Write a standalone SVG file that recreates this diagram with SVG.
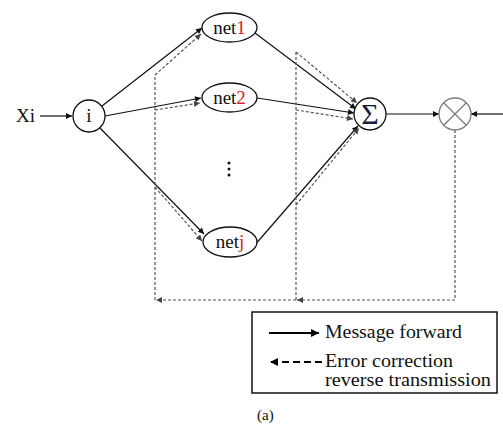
<svg xmlns="http://www.w3.org/2000/svg" width="503" height="426" viewBox="0 0 503 426">
  <defs>
    <marker id="arrow" viewBox="0 0 10 10" refX="10" refY="5" markerWidth="9" markerHeight="6" markerUnits="userSpaceOnUse" orient="auto">
      <path d="M0,0 L10,5 L0,10 z" fill="#111"/>
    </marker>
    <marker id="arrowGrey" viewBox="0 0 10 10" refX="10" refY="5" markerWidth="9" markerHeight="6" markerUnits="userSpaceOnUse" orient="auto">
      <path d="M0,0 L10,5 L0,10 z" fill="#444"/>
    </marker>
    <marker id="arrowBig" viewBox="0 0 10 10" refX="10" refY="5" markerWidth="11" markerHeight="8" markerUnits="userSpaceOnUse" orient="auto">
      <path d="M0,0 L10,5 L0,10 z" fill="#000"/>
    </marker>
  </defs>
  <style>
    .node { fill: #fff; stroke: #111; stroke-width: 1.3; }
    .label { font-family: "Liberation Serif", "Times New Roman", serif; font-size: 19px; fill: #111; }
    .red { fill: #e0202a; }
    .fwd { fill: none; stroke: #111; stroke-width: 1.2; marker-end: url(#arrow); }
    .back { fill: none; stroke: #555; stroke-width: 1.2; stroke-dasharray: 3 2; }
    .backArrow { marker-end: url(#arrowGrey); }
    .legendText { font-family: "Liberation Serif", "Times New Roman", serif; font-size: 19px; fill: #111; }
  </style>

  <rect width="503" height="426" fill="#fff"/>

  <!-- connectors -->
  <g id="connectors">
    <!-- forward messages -->
    <line class="fwd" x1="40" y1="116" x2="72" y2="116"/>
    <line class="fwd" x1="102" y1="106" x2="202" y2="28"/>
    <line class="fwd" x1="105" y1="116" x2="201" y2="98"/>
    <line class="fwd" x1="100" y1="128" x2="204" y2="234"/>
    <line class="fwd" x1="255" y1="33" x2="356" y2="109"/>
    <line class="fwd" x1="257" y1="98" x2="354" y2="113"/>
    <line class="fwd" x1="254" y1="246" x2="358" y2="126"/>
    <line class="fwd" x1="386" y1="114" x2="439" y2="114"/>
    <line class="fwd" x1="503" y1="114" x2="471" y2="114"/>

    <!-- error correction, reverse transmission -->
    <path class="back backArrow" d="M455,130 V300 H297"/>
    <path class="back backArrow" d="M296,300 H156"/>
    <path class="back" d="M296,300 V52"/>
    <path class="back" d="M155,300 V75"/>
    <line class="back backArrow" x1="296" y1="52" x2="357" y2="103"/>
    <line class="back backArrow" x1="296" y1="110" x2="353" y2="119"/>
    <line class="back backArrow" x1="296" y1="205" x2="359" y2="128"/>
    <line class="back backArrow" x1="155" y1="75" x2="201" y2="34"/>
    <line class="back backArrow" x1="155" y1="110" x2="200" y2="103"/>
    <line class="back backArrow" x1="155" y1="187" x2="202" y2="241"/>
  </g>

  <!-- input -->
  <g id="input-xi">
    <text class="label" x="16" y="122">Xi</text>
  </g>

  <g id="node-i">
    <circle class="node" cx="89" cy="116" r="16"/>
    <text class="label" x="89" y="122" text-anchor="middle">i</text>
  </g>

  <g id="node-net1">
    <ellipse class="node" cx="229.5" cy="27.5" rx="27.5" ry="14.5"/>
    <text class="label" x="229.5" y="33.5" text-anchor="middle">net<tspan class="red">1</tspan></text>
  </g>

  <g id="node-net2">
    <ellipse class="node" cx="229.5" cy="97.5" rx="27.5" ry="14.5"/>
    <text class="label" x="229.5" y="103.5" text-anchor="middle">net<tspan class="red">2</tspan></text>
  </g>

  <g id="ellipsis">
    <circle cx="229" cy="163" r="1.5" fill="#111"/>
    <circle cx="229" cy="169" r="1.5" fill="#111"/>
    <circle cx="229" cy="175" r="1.5" fill="#111"/>
  </g>

  <g id="node-netj">
    <ellipse class="node" cx="230" cy="242" rx="27" ry="15"/>
    <text class="label" x="230" y="248" text-anchor="middle">net<tspan class="red">j</tspan></text>
  </g>

  <g id="node-sum">
    <circle class="node" cx="370" cy="114" r="16"/>
    <text x="370" y="124" text-anchor="middle" font-family="Liberation Serif, serif" font-size="30" fill="#1c1c3c">Σ</text>
  </g>

  <g id="node-product">
    <circle cx="455" cy="114" r="16" fill="#fff" stroke="#7a7a7a" stroke-width="1.3"/>
    <path d="M443.7,102.7 L466.3,125.3 M466.3,102.7 L443.7,125.3" stroke="#7a7a7a" stroke-width="1.3"/>
  </g>

  <!-- legend -->
  <g id="legend">
    <rect x="252" y="312" width="245" height="81" fill="#fff" stroke="#111" stroke-width="1.5"/>
    <line x1="269" y1="333" x2="319" y2="333" stroke="#000" stroke-width="2" marker-end="url(#arrowBig)"/>
    <text class="legendText" x="325" y="338" textLength="137" lengthAdjust="spacingAndGlyphs">Message forward</text>
    <line x1="322" y1="362" x2="270" y2="362" stroke="#000" stroke-width="2" stroke-dasharray="7 4" marker-end="url(#arrowBig)"/>
    <text class="legendText" x="325" y="367" textLength="128" lengthAdjust="spacingAndGlyphs">Error correction</text>
    <text class="legendText" x="325" y="386" textLength="166" lengthAdjust="spacingAndGlyphs">reverse transmission</text>
  </g>

  <g id="caption">
    <text x="257" y="420" font-family="Liberation Serif, serif" font-size="15" fill="#111">(a)</text>
  </g>
</svg>
